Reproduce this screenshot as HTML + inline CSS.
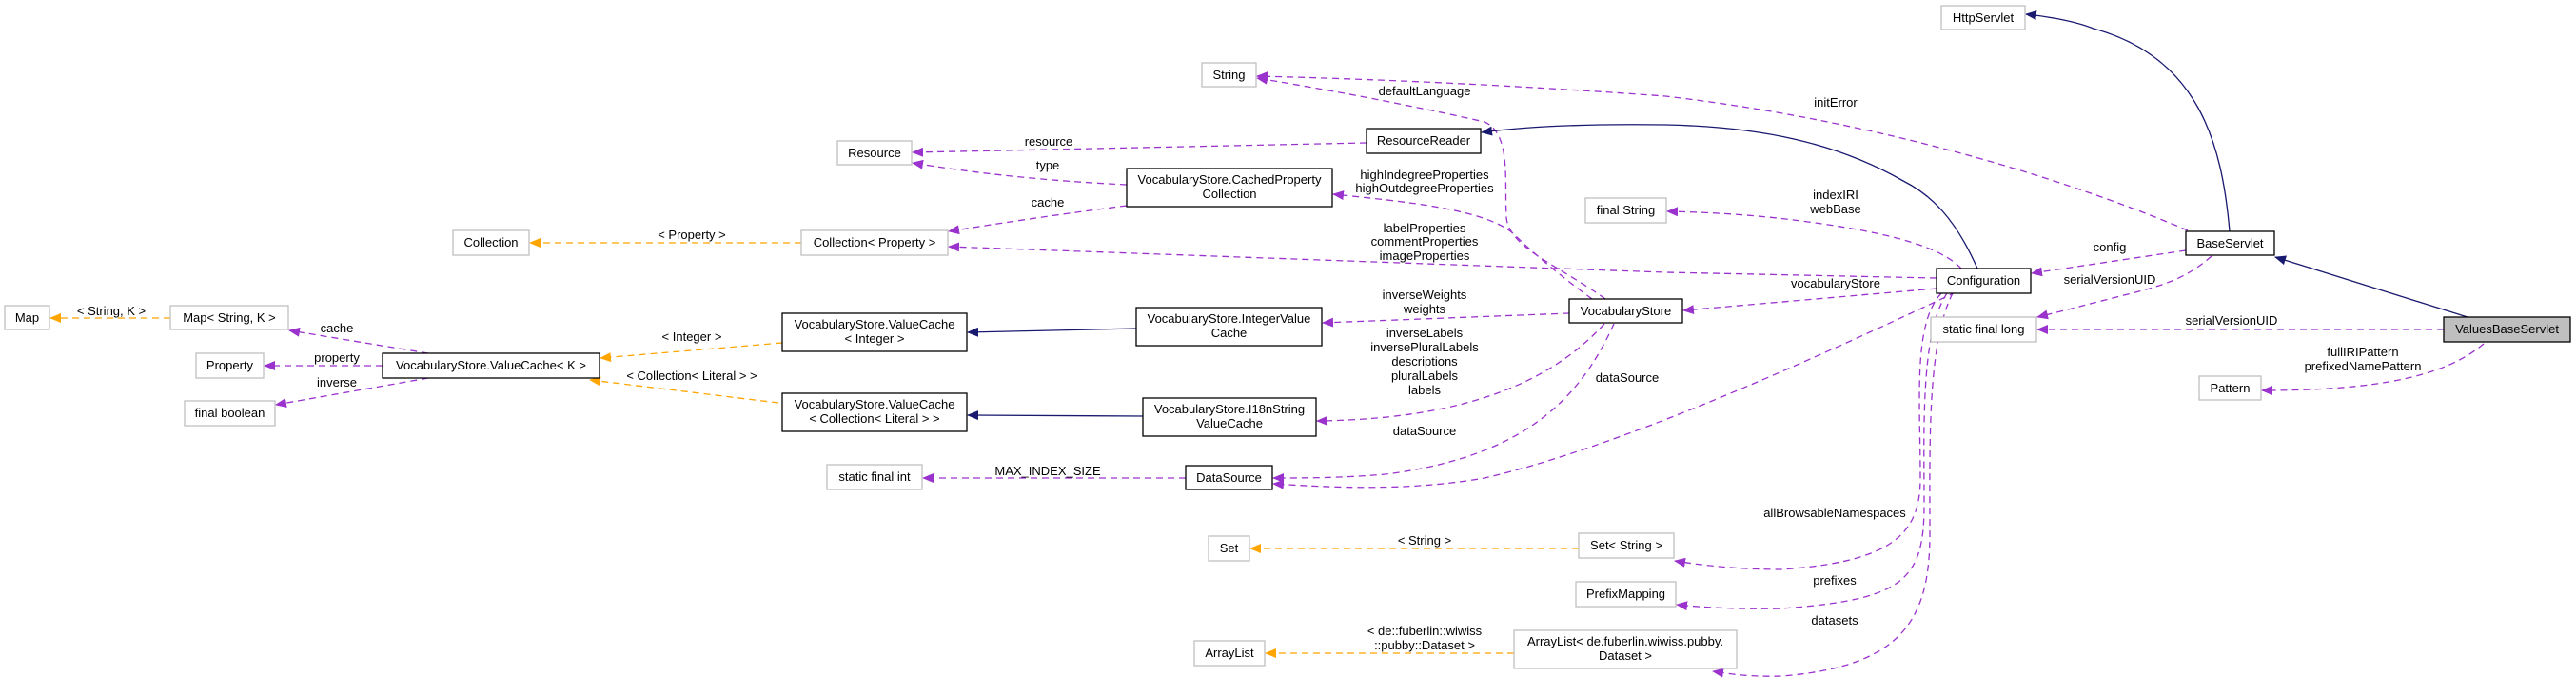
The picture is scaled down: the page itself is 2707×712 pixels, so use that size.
<!DOCTYPE html>
<html><head><meta charset="utf-8"><style>
html,body{margin:0;padding:0;background:#fff;}
svg{display:block;}
text{font-family:"Liberation Sans",sans-serif;font-size:13px;fill:#000;text-anchor:middle;}
.g{fill:#fff;stroke:#bfbfbf;stroke-width:1.3;}
.b{fill:#fff;stroke:#000;stroke-width:1.3;}
.p{fill:none;stroke:#9a32cd;stroke-width:1.3;stroke-dasharray:7,5;}
.o{fill:none;stroke:#ffa500;stroke-width:1.3;stroke-dasharray:7,5;}
.n{fill:none;stroke:#191970;stroke-width:1.3;}
</style></head><body>
<svg width="2707" height="712" viewBox="0 0 2707 712" xmlns="http://www.w3.org/2000/svg">
<defs>
<marker id="mp" markerWidth="12" markerHeight="10" refX="11" refY="5" orient="auto" markerUnits="userSpaceOnUse"><path d="M0,0 L12,5 L0,10 z" fill="#9a32cd"/></marker>
<marker id="mo" markerWidth="12" markerHeight="10" refX="11" refY="5" orient="auto" markerUnits="userSpaceOnUse"><path d="M0,0 L12,5 L0,10 z" fill="#ffa500"/></marker>
<marker id="mn" markerWidth="12" markerHeight="10" refX="11" refY="5" orient="auto" markerUnits="userSpaceOnUse"><path d="M0,0 L12,5 L0,10 z" fill="#191970"/></marker>
</defs>

<!-- edges -->
<path class="o" d="M179,334 L53,334" marker-end="url(#mo)"/>
<path class="p" d="M450,371 L304,347" marker-end="url(#mp)"/>
<path class="p" d="M402,384 L278,384" marker-end="url(#mp)"/>
<path class="p" d="M450,397 L290,425" marker-end="url(#mp)"/>
<path class="o" d="M842,255 L557,255" marker-end="url(#mo)"/>
<path class="o" d="M822,360 L631,376" marker-end="url(#mo)"/>
<path class="o" d="M818,423 L620,399" marker-end="url(#mo)"/>
<path class="n" d="M1194,345 L1017,349" marker-end="url(#mn)"/>
<path class="n" d="M1201,437 L1017,436" marker-end="url(#mn)"/>
<path class="p" d="M1184,194 Q1060,188 959,171" marker-end="url(#mp)"/>
<path class="p" d="M1184,216 Q1090,228 997,243" marker-end="url(#mp)"/>
<path class="p" d="M1436,150 L959,160" marker-end="url(#mp)"/>
<path class="p" d="M1246,502 L970,502" marker-end="url(#mp)"/>
<path class="p" d="M1687,314 C1640,280 1585,260 1583,228 C1581,190 1588,140 1560,128 C1480,110 1400,95 1321,82" marker-end="url(#mp)"/>
<path class="p" d="M1673,314 C1640,290 1610,265 1590,245 C1560,220 1480,212 1401,204" marker-end="url(#mp)"/>
<path class="o" d="M1659,576 L1314,576" marker-end="url(#mo)"/>
<path class="o" d="M1591,686 L1330,686" marker-end="url(#mo)"/>
<path class="p" d="M1649,329 L1390,339" marker-end="url(#mp)"/>
<path class="p" d="M1686,340 C1640,390 1560,440 1384,442" marker-end="url(#mp)"/>
<path class="p" d="M1696,340 C1660,420 1600,480 1456,498 C1410,502 1370,502 1338,502" marker-end="url(#mp)"/>
<path class="p" d="M2055,307 C1900,380 1700,470 1560,502 C1480,516 1400,512 1338,508" marker-end="url(#mp)"/>
<path class="p" d="M2035,303 L1769,326" marker-end="url(#mp)"/>
<path class="p" d="M2061,282 C2040,260 1990,245 1900,233 C1850,226 1800,223 1752,222" marker-end="url(#mp)"/>
<path class="p" d="M2035,292 L1750,286 L997,259" marker-end="url(#mp)"/>
<path class="n" d="M2078,282 C2055,230 2030,205 2000,190 C1930,150 1850,133 1750,131 C1680,130 1610,132 1557,139" marker-end="url(#mn)"/>
<path class="p" d="M2040,308 C2010,340 2018,420 2018,502 C2018,560 1990,590 1872,598 C1830,598 1790,594 1760,589" marker-end="url(#mp)"/>
<path class="p" d="M2046,308 C2018,350 2022,450 2022,530 C2022,610 2000,630 1872,639 C1830,640 1790,638 1762,635" marker-end="url(#mp)"/>
<path class="p" d="M2052,308 C2025,360 2028,470 2028,560 C2028,650 2000,700 1872,710 C1840,711 1820,708 1800,705" marker-end="url(#mp)"/>
<path class="p" d="M2299,242 C2200,200 2000,130 1750,101 C1600,90 1450,83 1321,80" marker-end="url(#mp)"/>
<path class="p" d="M2297,263 L2135,287" marker-end="url(#mp)"/>
<path class="p" d="M2324,269 C2300,290 2280,298 2240,308 C2200,318 2170,326 2141,333" marker-end="url(#mp)"/>
<path class="n" d="M2343,243 C2335,150 2310,60 2200,30 C2180,22 2150,17 2129,15" marker-end="url(#mn)"/>
<path class="n" d="M2593,333 L2391,270" marker-end="url(#mn)"/>
<path class="p" d="M2568,346 L2141,346" marker-end="url(#mp)"/>
<path class="p" d="M2610,361 C2570,395 2500,410 2377,410" marker-end="url(#mp)"/>

<!-- edge labels -->
<text x="117" y="331">&lt; String, K &gt;</text>
<text x="354" y="349">cache</text>
<text x="354" y="380">property</text>
<text x="354" y="406">inverse</text>
<text x="727" y="251">&lt; Property &gt;</text>
<text x="727" y="358">&lt; Integer &gt;</text>
<text x="727" y="399">&lt; Collection&lt; Literal &gt; &gt;</text>
<text x="1497" y="100">defaultLanguage</text>
<text x="1102" y="153">resource</text>
<text x="1101" y="178">type</text>
<text x="1101" y="217">cache</text>
<text x="1497" y="188">highIndegreeProperties</text>
<text x="1497" y="202">highOutdegreeProperties</text>
<text x="1497" y="244">labelProperties</text>
<text x="1497" y="258">commentProperties</text>
<text x="1497" y="273">imageProperties</text>
<text x="1497" y="314">inverseWeights</text>
<text x="1497" y="329">weights</text>
<text x="1497" y="354">inverseLabels</text>
<text x="1497" y="369">inversePluralLabels</text>
<text x="1497" y="384">descriptions</text>
<text x="1497" y="399">pluralLabels</text>
<text x="1497" y="414">labels</text>
<text x="1710" y="401">dataSource</text>
<text x="1497" y="457">dataSource</text>
<text x="1101" y="499">MAX_INDEX_SIZE</text>
<text x="1497" y="572">&lt; String &gt;</text>
<text x="1497" y="667">&lt; de::fuberlin::wiwiss</text>
<text x="1497" y="682">::pubby::Dataset &gt;</text>
<text x="1929" y="112">initError</text>
<text x="1929" y="209">indexIRI</text>
<text x="1929" y="224">webBase</text>
<text x="1929" y="302">vocabularyStore</text>
<text x="2217" y="264">config</text>
<text x="2217" y="298">serialVersionUID</text>
<text x="2345" y="341">serialVersionUID</text>
<text x="2483" y="374">fullIRIPattern</text>
<text x="2483" y="389">prefixedNamePattern</text>
<text x="1928" y="543">allBrowsableNamespaces</text>
<text x="1928" y="614">prefixes</text>
<text x="1928" y="656">datasets</text>

<!-- nodes -->
<rect class="g" x="5" y="321" width="47" height="25"/><text x="28.5" y="338">Map</text>
<rect class="g" x="179" y="321" width="124" height="25"/><text x="241" y="338">Map&lt; String, K &gt;</text>
<rect class="g" x="206" y="371" width="71" height="26"/><text x="241.5" y="388">Property</text>
<rect class="g" x="194" y="421" width="95" height="26"/><text x="241.5" y="438">final boolean</text>
<rect class="b" x="402" y="371" width="228" height="26"/><text x="516" y="388">VocabularyStore.ValueCache&lt; K &gt;</text>
<rect class="g" x="476" y="242" width="80" height="26"/><text x="516" y="259">Collection</text>
<rect class="g" x="842" y="242" width="154" height="26"/><text x="919" y="259">Collection&lt; Property &gt;</text>
<rect class="g" x="880" y="148" width="78" height="25"/><text x="919" y="165">Resource</text>
<rect class="b" x="822" y="329" width="194" height="40"/><text x="919" y="345">VocabularyStore.ValueCache</text><text x="919" y="360">&lt; Integer &gt;</text>
<rect class="b" x="822" y="413" width="194" height="40"/><text x="919" y="429">VocabularyStore.ValueCache</text><text x="919" y="444">&lt; Collection&lt; Literal &gt; &gt;</text>
<rect class="g" x="869" y="488" width="100" height="26"/><text x="919" y="505">static final int</text>
<rect class="g" x="1263" y="66" width="57" height="25"/><text x="1291.5" y="83">String</text>
<rect class="b" x="1436" y="135" width="120" height="26"/><text x="1496" y="152">ResourceReader</text>
<rect class="b" x="1184" y="177" width="216" height="40"/><text x="1292" y="193">VocabularyStore.CachedProperty</text><text x="1292" y="208">Collection</text>
<rect class="b" x="1194" y="323" width="195" height="40"/><text x="1291.5" y="339">VocabularyStore.IntegerValue</text><text x="1291.5" y="354">Cache</text>
<rect class="b" x="1201" y="418" width="182" height="40"/><text x="1292" y="434">VocabularyStore.I18nString</text><text x="1292" y="449">ValueCache</text>
<rect class="b" x="1246" y="489" width="91" height="25"/><text x="1291.5" y="506">DataSource</text>
<rect class="g" x="1270" y="563" width="43" height="26"/><text x="1291.5" y="580">Set</text>
<rect class="g" x="1255" y="673" width="74" height="26"/><text x="1292" y="690">ArrayList</text>
<rect class="g" x="1666" y="208" width="85" height="26"/><text x="1708.5" y="225">final String</text>
<rect class="b" x="1649" y="314" width="119" height="25"/><text x="1708.5" y="331">VocabularyStore</text>
<rect class="g" x="1659" y="560" width="100" height="26"/><text x="1709" y="577">Set&lt; String &gt;</text>
<rect class="g" x="1656" y="611" width="105" height="26"/><text x="1708.5" y="628">PrefixMapping</text>
<rect class="g" x="1591" y="662" width="234" height="40"/><text x="1708" y="678">ArrayList&lt; de.fuberlin.wiwiss.pubby.</text><text x="1708" y="693">Dataset &gt;</text>
<rect class="g" x="2040" y="6" width="88" height="25"/><text x="2084" y="23">HttpServlet</text>
<rect class="b" x="2035" y="282" width="99" height="26"/><text x="2084.5" y="299">Configuration</text>
<rect class="g" x="2029" y="333" width="111" height="26"/><text x="2084.5" y="350">static final long</text>
<rect class="b" x="2297" y="243" width="93" height="25"/><text x="2343.5" y="260">BaseServlet</text>
<rect class="g" x="2311" y="395" width="65" height="25"/><text x="2343.5" y="412">Pattern</text>
<rect x="2568" y="333" width="133" height="26" fill="#bfbfbf" stroke="#000" stroke-width="1.3"/><text x="2634.5" y="350">ValuesBaseServlet</text>
</svg>
</body></html>
